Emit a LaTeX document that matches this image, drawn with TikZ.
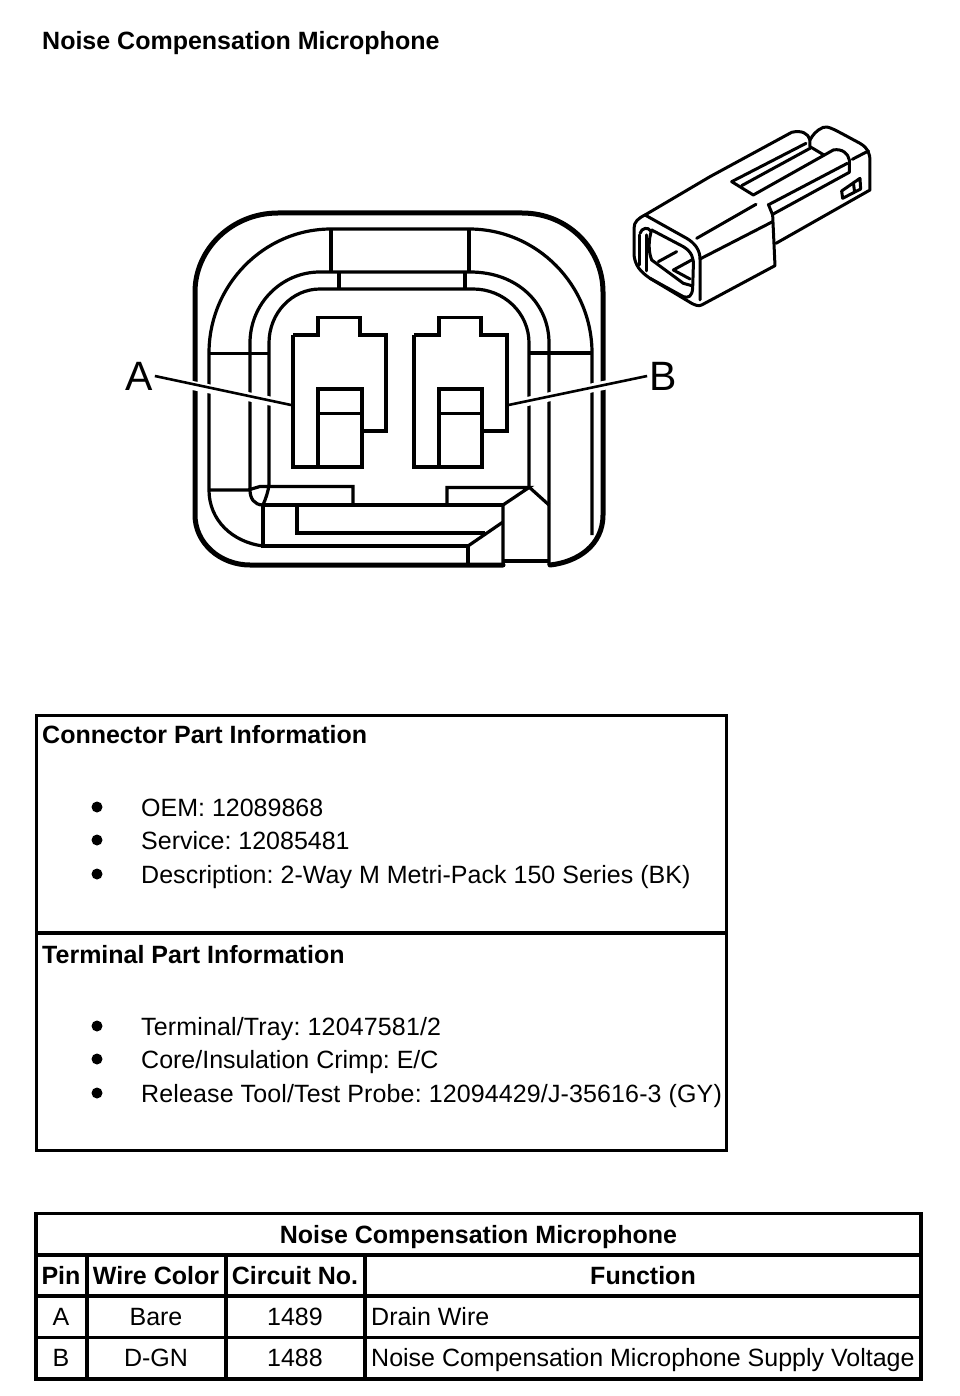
\documentclass[tikz,border=0pt]{standalone}
\usepackage{fontspec}
\setmainfont{Liberation Sans}
\tikzset{
  txt/.style={inner sep=0pt,font=\fontsize{25}{30}\selectfont\frenchspacing},
  lt/.style={txt,anchor=base west},
  ct/.style={txt,anchor=base},
  bt/.style={lt,font=\fontsize{25}{30}\selectfont\bfseries},
  bc/.style={ct,font=\fontsize{25}{30}\selectfont\bfseries},
  dot/.style={circle,fill=black,inner sep=0pt,minimum size=11pt},
  shell/.style={line width=5pt,line join=round,line cap=round},
  thin/.style={line width=3.2pt,line join=miter},
  pin/.style={line width=3.8pt,line join=miter},
  halo/.style={white,line width=9pt},
  leader/.style={line width=2.6pt},
  iso/.style={line width=3pt,line join=round,line cap=round},
  grid/.style={line width=3.2pt},
  frame/.style={line width=3.8pt},
  callout/.style={inner sep=2pt,font=\fontsize{41}{46}\selectfont}
}
\begin{document}
\begin{tikzpicture}[x=1pt,y=-1pt]
\useasboundingbox (0,0) rectangle (960,1396);
\fill[white] (0,0) rectangle (960,1396);
\node[bt] (title) at (42,49.5) {Noise Compensation Microphone};
% shell
\draw[shell] (503,565) -- (250,565) .. controls (220,565) and (195,543) .. (195,515) -- (195,292)
  .. controls (195,249) and (232,213) .. (278,213) -- (522,213)
  .. controls (568,213) and (603,249) .. (603,292) -- (603,515)
  .. controls (603,545) and (578,562) .. (550,565);
\draw[line width=4pt] (503,561) -- (549,561);
% second contour
\draw[thin] (263,546) .. controls (232,542) and (209,520) .. (209,490) -- (209,353)
  .. controls (209,285) and (264,229) .. (331,229) -- (469,229)
  .. controls (537,229) and (592,285) .. (592,353) -- (592,535);
% third contour
\draw[thin] (263,505) .. controls (254,505) and (250,498) .. (250,490) -- (250,343)
  .. controls (250,304) and (281,272) .. (320,272) -- (470,272)
  .. controls (518,272) and (549,304) .. (549,343) -- (549,565);
% fourth contour
\draw[thin] (269,485) -- (269,343) .. controls (269,313) and (292,289) .. (320,289) -- (473,289)
  .. controls (504,289) and (529,313) .. (529,343) -- (529,487);
\draw[thin] (331,229) -- (331,272) (469,229) -- (469,272) (339,272) -- (339,289) (465,272) -- (465,289);
\draw[thin] (209,353.5) -- (269,353.5) (530,353) -- (592,353);
% lower lip
\draw[thin] (209,490) -- (248,490) -- (260,486.5) -- (353,486.5) -- (353,505);
\draw[thin] (269,485) .. controls (268,492) and (266,498) .. (263,505);
\draw[thin] (263,505) -- (503,505) (263,505) -- (263,546) -- (468,546) -- (468,565);
\draw[thin] (447,505) -- (447,487.5) -- (529,487.5) -- (503,505) -- (503,565);
\draw[thin] (529,487) -- (549,505);
\draw[thin] (503,522) -- (468,546);
\draw[pin] (297,505) -- (297,533) -- (485,533);
% pins
\draw[pin] (293,335) -- (318,335) -- (318,317.5) -- (360,317.5) -- (360,335) -- (386,335) -- (386,431) -- (362,431);
\draw[pin] (293,335) -- (293,467) -- (362,467) -- (362,389) -- (318,389) -- (318,467);
\draw[line width=3pt] (318,413) -- (362,413);
\draw[pin] (414,335) -- (439,335) -- (439,317.5) -- (481,317.5) -- (481,335) -- (507,335) -- (507,431) -- (482,431);
\draw[pin] (414,335) -- (414,467) -- (482,467) -- (482,389) -- (439,389) -- (439,467);
\draw[line width=3pt] (439,413) -- (482,413);
% leaders
\node[callout] (labA) at (139,376) {A};
\node[callout] (labB) at (663,376) {B};
\coordinate (pinA) at (291,405);
\coordinate (pinB) at (508.5,405);
\coordinate (haA) at (180,383);
\coordinate (haAe) at (280,403);
\coordinate (haB) at (620,382);
\coordinate (haBe) at (520,403);
\draw[halo] (haA) -- (haAe);
\draw[halo] (haB) -- (haBe);
\draw[leader] (labA.east) -- (pinA);
\draw[leader] (labB.west) -- (pinB);
% isometric view
\begin{scope}[shift={(620,115)},x=0.3333pt,y=-0.3333pt,iso]
\draw (75,300) -- (270,185) -- (515,52) .. controls (545,45) and (565,55) .. (570,75)
  .. controls (578,60) and (590,45) .. (610,37) .. controls (625,32) and (640,42) .. (720,85)
  .. controls (745,100) and (750,115) .. (750,140) -- (750,225) -- (468,385);
\draw (570,75) -- (570,95) -- (612,120);
\draw (335,200) -- (558,85);
\draw (365,212) -- (570,100);
\draw (335,200) -- (400,240) -- (640,105) .. controls (665,100) and (685,115) .. (688,135) -- (688,172) -- (458,298);
\draw (448,268) -- (682,145);
\draw (697,133) -- (745,108);
\draw (665,228) -- (720,190) -- (722,222) -- (668,250) -- cycle (700,202) -- (704,232);
\draw (75,300) -- (200,370) .. controls (225,385) and (240,405) .. (240,432) -- (240,555);
\draw (240,432) -- (458,320);
\draw (230,370) -- (408,268);
\draw (445,268) -- (458,300) -- (465,452) -- (245,570) .. controls (235,575) and (225,570) .. (215,565)
  -- (90,490) .. controls (60,470) and (45,450) .. (42,420) -- (42,340) .. controls (42,320) and (55,310) .. (75,300);
\draw (95,345) -- (190,395) .. controls (215,410) and (222,430) .. (220,455) -- (218,520) .. controls (216,545) and (205,550) .. (190,545) -- (90,490);
\draw (95,345) .. controls (85,375) and (85,410) .. (95,435) -- (190,505) -- (215,512);
\draw (115,440) -- (170,410);
\draw (215,435) -- (160,465) -- (210,492);
\draw (57,360) -- (57,450) (78,360) -- (78,468);
\draw (60,355) .. controls (65,338) and (85,335) .. (92,348);
\end{scope}
% connector part box
\draw[frame] (36.5,715.5) rectangle (726.5,1150.5);
\draw[frame] (36.5,933) -- (726.5,933);
\node[bt] (conntitle) at (42,743) {Connector Part Information};
\node[dot] (b1) at (97,807) {};
\node[dot] (b2) at (97,840) {};
\node[dot] (b3) at (97,874) {};
\node[lt] (c1) at (141,816) {OEM: 12089868};
\node[lt] (c2) at (141,849) {Service: 12085481};
\node[lt] (c3) at (141,883) {\addfontfeature{LetterSpace=0.15}Description: 2-Way M Metri-Pack 150 Series (BK)};
\node[bt] (termtitle) at (42,963) {Terminal Part Information};
\node[dot] (b4) at (97,1026) {};
\node[dot] (b5) at (97,1059) {};
\node[dot] (b6) at (97,1093) {};
\node[lt] (t1) at (141,1035) {\addfontfeature{LetterSpace=0.6}Terminal/Tray: 12047581/2};
\node[lt] (t2) at (141,1068) {Core/Insulation Crimp: E/C};
\node[lt] (t3) at (141,1102) {\addfontfeature{LetterSpace=0.5}Release Tool/Test Probe: 12094429/J-35616-3 (GY)};
% pin table
\draw[grid] (36,1213.5) rectangle (921,1379);
\draw[grid] (36,1255) -- (921,1255) (36,1296) -- (921,1296) (36,1337.5) -- (921,1337.5);
\draw[grid] (87,1255) -- (87,1379) (226,1255) -- (226,1379) (365,1255) -- (365,1379);
\node[bc] (ptitle) at (478.5,1243) {Noise Compensation Microphone};
\node[bc] (h1) at (61,1284) {Pin};
\node[bc] (h2) at (156,1284) {Wire Color};
\node[bc] (h3) at (295,1284) {Circuit No.};
\node[bc] (h4) at (643,1284) {Function};
\node[ct] (a1) at (61,1325) {A};
\node[ct] (a2) at (156,1325) {Bare};
\node[ct] (a3) at (295,1325) {1489};
\node[lt] (a4) at (371,1325) {Drain Wire};
\node[ct] (b1c) at (61,1366) {B};
\node[ct] (b2c) at (156,1366) {D-GN};
\node[ct] (b3c) at (295,1366) {1488};
\node[lt] (b4c) at (371,1366) {Noise Compensation Microphone Supply Voltage};
\end{tikzpicture}
\end{document}
